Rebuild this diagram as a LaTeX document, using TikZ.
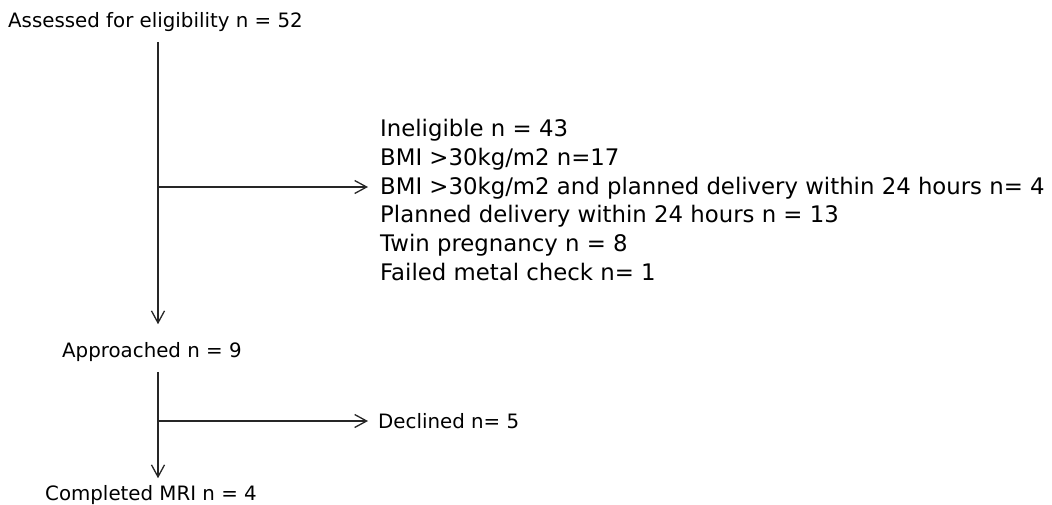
\documentclass[tikz,border=0pt]{standalone}
\usepackage{fontspec}
\setmainfont{DejaVu Sans}
\usetikzlibrary{positioning,arrows.meta}

\begin{document}
\begin{tikzpicture}[
  x=1pt, y=-1pt,
  font=\fontsize{19.8}{28.8}\selectfont,
  lbl/.style={anchor=west, inner sep=0pt, align=left},
  big/.style={lbl, font=\fontsize{22.8}{28.8}\selectfont},
  flow/.style={-{Straight Barb[length=12pt,width=13pt]}, line width=1.3pt, draw=black!85}
]
\useasboundingbox (0,0) rectangle (1052,504);
\coordinate (trunk) at (158,0);
\node[lbl] (assess)   at (8,22)   {Assessed for eligibility n = 52};
\node[big] (inelig)   at (380,200) {Ineligible n = 43\\
  BMI >30kg/m2 n=17\\
  BMI >30kg/m2 and planned delivery within 24 hours n= 4\\
  Planned delivery within 24 hours n = 13\\
  Twin pregnancy n = 8\\
  Failed metal check n= 1};
\node[lbl] (approach) at (62,352) {Approached n = 9};
\node[lbl] (decline)  at (378,421) {Declined n= 5};
\node[lbl] (mri)      at (45,495)  {Completed MRI n = 4};

\coordinate (fork1) at (158,187);
\coordinate (fork2) at (158,421);

\draw[flow] ([yshift=-10pt]assess.south -| trunk) -- ([yshift=18pt]approach.north -| trunk);
\draw[flow] (fork1) -- ([xshift=-12pt]inelig.west |- fork1);
\draw[flow] ([yshift=-10pt]approach.south -| trunk) -- ([yshift=7pt]mri.north -| trunk);
\draw[flow] (fork2) -- ([xshift=-10pt]decline.west);
\end{tikzpicture}
\end{document}
